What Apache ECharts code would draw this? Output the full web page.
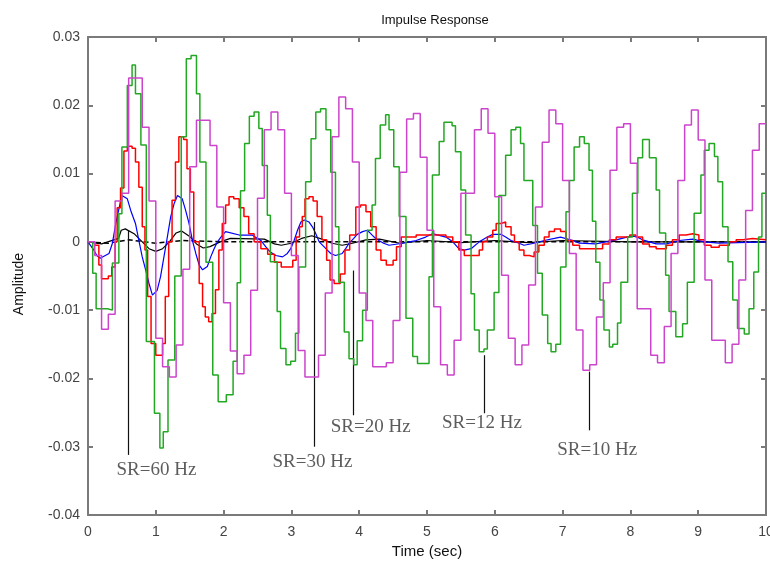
<!DOCTYPE html>
<html>
<head>
<meta charset="utf-8">
<script src="https://cdn.jsdelivr.net/npm/echarts@6/dist/echarts.min.js"></script>
<style>html,body{margin:0;padding:0;background:#fff;}#c{width:770px;height:565px;}</style>
</head>
<body>
<div id="c"></div>
<script>
// ---- Data ----
const xTicks = [0,1,2,3,4,5,6,7,8,9,10];
const yTicks = [-0.04,-0.03,-0.02,-0.01,0,0.01,0.02,0.03];

// SR = 10 Hz (magenta), one value per 0.1 s sample
const magentaStep = 0.1;
const magentaV = [
 0, -0.0020, -0.0128, -0.0106, 0.0060, 0.0071, 0.0240, 0.0240, 0.0168, 0.0060,
 -0.0141, -0.0183, -0.0198, -0.0151, -0.0040, 0.0110, 0.0178, 0.0178, 0.0141, 0.0051,
 -0.0089, -0.0160, -0.0193, -0.0166, -0.0071, 0.0064, 0.0164, 0.0190, 0.0164, 0.0071,
 -0.0020, -0.0159, -0.0198, -0.0198, -0.0166, -0.0075, 0.0154, 0.0212, 0.0195, 0.0117,
 -0.0075, -0.0115, -0.0183, -0.0183, -0.0177, -0.0115, 0.0102, 0.0180, 0.0188, 0.0124,
 0.0017, -0.0095, -0.0180, -0.0195, -0.0144, 0.0071, 0.0071, 0.0164, 0.0195, 0.0159,
 0.0066, -0.0049, -0.0141, -0.0180, -0.0151, -0.0063, 0.0051, 0.0146, 0.0193, 0.0173,
 0.0090, -0.0017, -0.0129, -0.0188, -0.0180, -0.0110, -0.0060, 0.0105, 0.0168, 0.0173,
 0.0115, -0.0098, -0.0098, -0.0166, -0.0177, -0.0124, -0.0017, 0.0090, 0.0171, 0.0193,
 0.0149, -0.0056, -0.0144, -0.0144, -0.0177, -0.0150, -0.0056, 0.0046, 0.0134, 0.0173, 0.0173
];

// SR = 12 Hz (green), [time, value] at each step
const greenPts = [
 [0,0],[0.07,-0.0046],[0.12,-0.0098],[0.29,-0.0100],[0.36,-0.0031],[0.455,0.0041],[0.50,0.0139],[0.58,0.0229],[0.65,0.0259],[0.70,0.0217],
 [0.78,0.0142],[0.86,-0.0146],[0.98,-0.0251],[1.06,-0.0302],[1.11,-0.0278],[1.18,-0.0173],[1.28,-0.0050],[1.375,0.0154],[1.45,0.0268],[1.52,0.0273],
 [1.60,0.0217],[1.65,0.0117],[1.74,-0.0030],[1.84,-0.0195],[1.92,-0.0234],[2.04,-0.0224],[2.14,-0.0175],[2.20,-0.0060],[2.25,0.0075],[2.31,0.0144],
 [2.38,0.0184],[2.45,0.0190],[2.52,0.0166],[2.57,0.0112],[2.645,0.0039],[2.69,-0.0029],[2.79,-0.0102],[2.84,-0.0156],[2.92,-0.0180],[2.99,-0.0175],
 [3.06,-0.0134],[3.11,-0.0037],[3.21,0.0088],[3.29,0.0151],[3.36,0.0190],[3.43,0.0195],[3.51,0.0164],[3.58,0.0102],[3.65,0.0022],[3.70,-0.0059],
 [3.78,-0.0132],[3.85,-0.0171],[3.92,-0.0180],[3.97,-0.0145],[4.05,-0.0100],[4.12,0.0017],[4.19,0.0054],[4.24,0.0122],[4.31,0.0171],[4.39,0.0186],
 [4.44,0.0164],[4.51,0.0110],[4.59,0.0037],[4.69,-0.0112],[4.79,-0.0168],[4.86,-0.0178],[5.03,-0.0051],[5.08,0.0098],[5.18,0.0147],[5.25,0.0175],
 [5.37,0.0170],[5.42,0.0132],[5.50,0.0076],[5.57,0.0010],[5.65,-0.0076],[5.70,-0.0129],[5.77,-0.0161],[5.84,-0.0157],[5.89,-0.0129],[5.99,-0.0074],
 [6.06,0.0068],[6.16,0.0127],[6.24,0.0164],[6.31,0.0168],[6.38,0.0144],[6.43,0.0090],[6.56,0.0024],[6.63,-0.0046],[6.70,-0.0107],[6.78,-0.0149],
 [6.83,-0.0161],[6.90,-0.0150],[6.97,-0.0037],[7.05,0.0044],[7.10,0.0090],[7.17,0.0139],[7.25,0.0154],[7.32,0.0144],[7.39,0.0105],[7.44,0.0030],
 [7.49,-0.0030],[7.55,-0.0085],[7.61,-0.0129],[7.69,-0.0154],[7.74,-0.0150],[7.81,-0.0119],[7.86,-0.0059],[7.96,0.0007],[8.03,0.0071],[8.11,0.0123],
 [8.18,0.0150],[8.28,0.0123],[8.38,0.0076],[8.43,0.0013],[8.52,-0.0049],[8.57,-0.0102],[8.67,-0.0139],[8.77,-0.0120],[8.84,-0.0059],[8.94,0.0042],
 [9.04,0.0098],[9.09,0.0134],[9.16,0.0144],[9.24,0.0125],[9.29,0.0088],[9.36,0.0022],[9.44,-0.0029],[9.51,-0.0085],[9.58,-0.0127],[9.68,-0.0135],
 [9.75,-0.0098],[9.82,-0.0044],[9.89,0.0007],[9.94,0.0071],[10,0.0071]
];

// SR = 20 Hz (red)
const redPts = [
 [0,0],[0.10,-0.0005],[0.16,-0.0034],[0.20,-0.0054],[0.30,-0.0050],[0.35,-0.0037],[0.40,0.0000],[0.43,0.0050],[0.48,0.0079],[0.53,0.0133],
 [0.58,0.0140],[0.65,0.0137],[0.70,0.0117],[0.75,0.0080],[0.80,0.0022],[0.84,-0.0012],[0.88,-0.0080],[0.93,-0.0149],[1.00,-0.0166],[1.05,-0.0166],
 [1.10,-0.0149],[1.14,-0.0080],[1.19,0.0000],[1.24,0.0061],[1.29,0.0117],[1.34,0.0154],[1.41,0.0150],[1.46,0.0107],[1.51,0.0073],[1.56,0.0000],
 [1.64,-0.0061],[1.69,-0.0095],[1.73,-0.0110],[1.78,-0.0117],[1.83,-0.0105],[1.88,-0.0070],[1.93,-0.0012],[1.98,0.0027],[2.03,0.0054],[2.08,0.0066],
 [2.15,0.0063],[2.23,0.0050],[2.30,0.0037],[2.37,0.0012],[2.45,0.0000],[2.55,-0.0010],[2.65,-0.0018],[2.75,-0.0030],[2.85,-0.0037],[2.95,-0.0037],
 [3.02,-0.0027],[3.07,0.0007],[3.12,0.0022],[3.16,0.0037],[3.20,0.0063],[3.26,0.0066],[3.32,0.0060],[3.38,0.0037],[3.45,0.0003],[3.52,-0.0027],
 [3.57,-0.0056],[3.63,-0.0061],[3.72,-0.0047],[3.79,-0.0012],[3.86,0.0010],[3.95,0.0051],[4.02,0.0054],[4.10,0.0044],[4.17,0.0022],[4.25,-0.0012],
 [4.32,-0.0027],[4.40,-0.0034],[4.50,-0.0027],[4.55,-0.0007],[4.62,0.0007],[4.84,0.0010],[5.13,0.0010],[5.28,0.0007],[5.38,0.0000],[5.47,-0.0012],
 [5.55,-0.0020],[5.77,-0.0012],[5.82,0.0000],[5.89,0.0007],[5.97,0.0017],[6.02,0.0027],[6.09,0.0029],[6.16,0.0022],[6.24,0.0010],[6.29,0.0000],
 [6.36,-0.0012],[6.43,-0.0020],[6.51,-0.0022],[6.58,-0.0015],[6.65,-0.0005],[6.73,0.0007],[6.80,0.0015],[6.88,0.0019],[6.97,0.0015],[7.05,0.0002],
 [7.15,-0.0005],[7.25,-0.0010],[7.49,-0.0010],[7.59,-0.0003],[7.69,0.0003],[7.79,0.0007],[7.99,0.0010],[8.08,0.0007],[8.18,-0.0003],[8.28,-0.0007],
 [8.38,-0.0010],[8.53,-0.0005],[8.62,0.0003],[8.72,0.0010],[8.82,0.0012],[8.92,0.0010],[9.01,0.0003],[9.09,-0.0005],[9.19,-0.0008],[9.31,-0.0005],
 [9.46,0.0000],[9.56,0.0003],[9.66,0.0005],[9.80,0.0003],[10,0.0003]
];

// SR = 30 Hz (blue)
const bluePts = [
 [0,0],[0.086,-0.0012],[0.13,-0.0020],[0.18,-0.0024],[0.31,-0.0017],[0.36,-0.0002],[0.41,0.0027],[0.46,0.0050],[0.50,0.0068],[0.58,0.0063],
 [0.63,0.0046],[0.70,0.0027],[0.75,0.0002],[0.80,-0.0022],[0.85,-0.0041],[0.90,-0.0061],[0.95,-0.0078],[1.02,-0.0071],[1.07,-0.0051],[1.12,-0.0022],
 [1.17,0.0007],[1.22,0.0037],[1.27,0.0056],[1.32,0.0068],[1.39,0.0063],[1.44,0.0046],[1.49,0.0027],[1.54,0.0002],[1.59,-0.0017],[1.64,-0.0034],
 [1.69,-0.0041],[1.76,-0.0036],[1.81,-0.0022],[1.86,-0.0010],[1.91,0.0000],[1.96,0.0007],[2.03,0.0015],[2.23,0.0010],[2.42,0.0010],[2.55,0.0002],
 [2.62,-0.0007],[2.69,-0.0015],[2.77,-0.0020],[2.87,-0.0022],[2.94,-0.0017],[2.99,-0.0010],[3.04,0.0002],[3.09,0.0017],[3.14,0.0029],[3.19,0.0032],
 [3.26,0.0029],[3.31,0.0022],[3.36,0.0012],[3.41,0.0000],[3.48,-0.0007],[3.53,-0.0012],[3.58,-0.0017],[3.65,-0.0020],[3.75,-0.0017],[3.80,-0.0010],
 [3.85,-0.0002],[3.92,0.0005],[3.97,0.0011],[4.05,0.0015],[4.12,0.0017],[4.17,0.0012],[4.22,0.0007],[4.29,0.0002],[4.36,-0.0002],[4.44,-0.0005],
 [4.64,-0.0002],[4.74,0.0000],[4.84,0.0002],[4.98,0.0007],[5.08,0.0012],[5.28,0.0007],[5.38,0.0000],[5.47,-0.0010],[5.55,-0.0012],[5.65,-0.0010],
 [5.77,0.0000],[5.89,0.0007],[5.97,0.0011],[6.09,0.0011],[6.16,0.0007],[6.24,0.0002],[6.36,-0.0002],[6.43,-0.0005],[6.58,-0.0002],[6.73,0.0002],
 [6.88,0.0005],[6.97,0.0007],[7.15,0.0002],[7.25,-0.0002],[7.49,-0.0003],[7.79,0.0003],[7.99,0.0008],[8.08,0.0008],[8.18,0.0003],[8.38,-0.0003],
 [8.53,-0.0003],[8.72,0.0002],[8.92,0.0004],[9.09,0.0000],[9.31,-0.0002],[10,0]
];

// SR = 60 Hz (black solid)
const blackPts = [
 [0,0],[0.20,-0.0003],[0.45,0.0005],[0.49,0.0017],[0.55,0.0019],[0.68,0.0012],[0.80,0.0000],[0.90,-0.0010],[1.00,-0.0014],[1.10,-0.0010],
 [1.20,0.0000],[1.30,0.0013],[1.38,0.0016],[1.50,0.0008],[1.60,-0.0003],[1.70,-0.0009],[1.80,-0.0007],[1.95,0.0000],[2.10,0.0005],[2.60,0.0004],
 [2.75,-0.0003],[2.85,-0.0005],[3.00,-0.0002],[3.15,0.0005],[3.30,0.0009],[3.45,0.0004],[3.60,-0.0002],[3.75,-0.0005],[3.90,-0.0002],[4.10,0.0003],
 [4.30,0.0004],[4.60,-0.0002],[5.00,0.0002],[5.50,-0.0001],[6.00,0.0002],[6.50,-0.0001],[7.00,0.0002],[8.00,0.0000],[10,0]
];

// continuous response (black dashed)
const contPts = [[0,0],[0.3,-0.0002],[0.6,0.0003],[1.0,-0.0002],[1.4,0.0002],[2.0,0.0000],[10,0]];

// annotations: label, x, connector bottom, connector top, label x, label y
const annText   = ['SR=60 Hz','SR=30 Hz','SR=20 Hz','SR=12 Hz','SR=10 Hz'];
const annX      = [0.60, 3.33, 3.91, 5.85, 7.39];
const annBottom = [-0.0312, -0.0300, -0.0254, -0.0251, -0.0276];
const annTop    = [0.0017, 0.0029, -0.0042, -0.0166, -0.0190];
const annLabelX = [1.01, 3.31, 4.17, 5.81, 7.51];
const annLabelY = [-0.0334, -0.0323, -0.0271, -0.0265, -0.0305];

// ---- Build chart ----
const magentaData = magentaV.map((v, i) => [+(i * magentaStep).toFixed(2), v]);
const axisGray = '#7a7a7a';
const fmtY = v => { const r = Math.round(v * 100) / 100; return r === 0 ? '0' : String(r); };
const font = 'Liberation Sans';

const baseX = {
  type: 'value', min: xTicks[0], max: xTicks[xTicks.length - 1], interval: 1,
  axisLine: { show: true, onZero: false, lineStyle: { color: axisGray, width: 2 } },
  axisTick: { show: true, inside: true, length: 5, lineStyle: { color: axisGray, width: 2 } },
  splitLine: { show: false }
};
const baseY = {
  type: 'value', min: yTicks[0], max: yTicks[yTicks.length - 1], interval: 0.01,
  axisLine: { show: true, onZero: false, lineStyle: { color: axisGray, width: 2 } },
  axisTick: { show: true, inside: true, length: 5, lineStyle: { color: axisGray, width: 2 } },
  splitLine: { show: false }
};

const chart = echarts.init(document.getElementById('c'), null, { renderer: 'canvas' });
const option = {
  animation: false,
  backgroundColor: '#ffffff',
  title: {
    text: 'Impulse Response', left: 430, top: 9, textAlign: 'center',
    textStyle: { fontFamily: font, fontSize: 13, fontWeight: 'normal', color: '#111' }
  },
  grid: { left: 88, right: 4, top: 37, bottom: 50, containLabel: false, outerBoundsMode: 'none' },
  xAxis: [
    Object.assign({}, baseX, {
      position: 'bottom', name: 'Time (sec)', nameLocation: 'middle', nameGap: 29,
      nameTextStyle: { fontFamily: font, fontSize: 15, color: '#111' },
      axisLabel: { show: true, margin: 10, fontFamily: font, fontSize: 14, color: '#444' }
    }),
    Object.assign({}, baseX, { position: 'top', axisLabel: { show: false } })
  ],
  yAxis: [
    Object.assign({}, baseY, {
      position: 'left', name: 'Amplitude', nameLocation: 'middle', nameGap: 62,
      nameTextStyle: { fontFamily: font, fontSize: 14, color: '#111', padding: [0, 16, 0, 0] },
      axisLabel: { show: true, margin: 8, fontFamily: font, fontSize: 14, color: '#444', formatter: fmtY }
    }),
    Object.assign({}, baseY, { position: 'right', axisLabel: { show: false } })
  ],
  series: [
    { type: 'line', data: contPts, showSymbol: false, z: 2,
      lineStyle: { color: '#000', width: 1.5, type: [5, 3] } },
    { type: 'line', data: blackPts, showSymbol: false, smooth: false, z: 3,
      lineStyle: { color: '#000', width: 1.2 } },
    { type: 'line', data: bluePts, showSymbol: false, z: 4,
      lineStyle: { color: '#0000ff', width: 1.2 } },
    { type: 'line', data: redPts, showSymbol: false, step: 'end', z: 5,
      lineStyle: { color: '#ff0000', width: 1.5 } },
    { type: 'line', data: greenPts, showSymbol: false, step: 'end', z: 6,
      lineStyle: { color: '#22a822', width: 1.5 } },
    { type: 'line', data: magentaData, showSymbol: false, step: 'end', z: 7,
      lineStyle: { color: '#cc44cc', width: 1.5 } },
    { type: 'line', data: [], z: 8, silent: true,
      markLine: {
        silent: true, symbol: ['none', 'none'], animation: false,
        label: { show: false },
        lineStyle: { color: '#111', width: 1.2, type: 'solid' },
        data: annX.map((x, i) => [{ coord: [x, annBottom[i]] }, { coord: [x, annTop[i]] }])
      } },
    { type: 'scatter', symbolSize: 0, z: 9, silent: true,
      data: annText.map((t, i) => ({ value: [annLabelX[i], annLabelY[i]], name: t })),
      label: { show: true, position: 'inside', formatter: p => p.name,
        fontFamily: 'Liberation Serif', fontSize: 19, color: '#333' } }
  ]
};
chart.setOption(option);
</script>
</body>
</html>
